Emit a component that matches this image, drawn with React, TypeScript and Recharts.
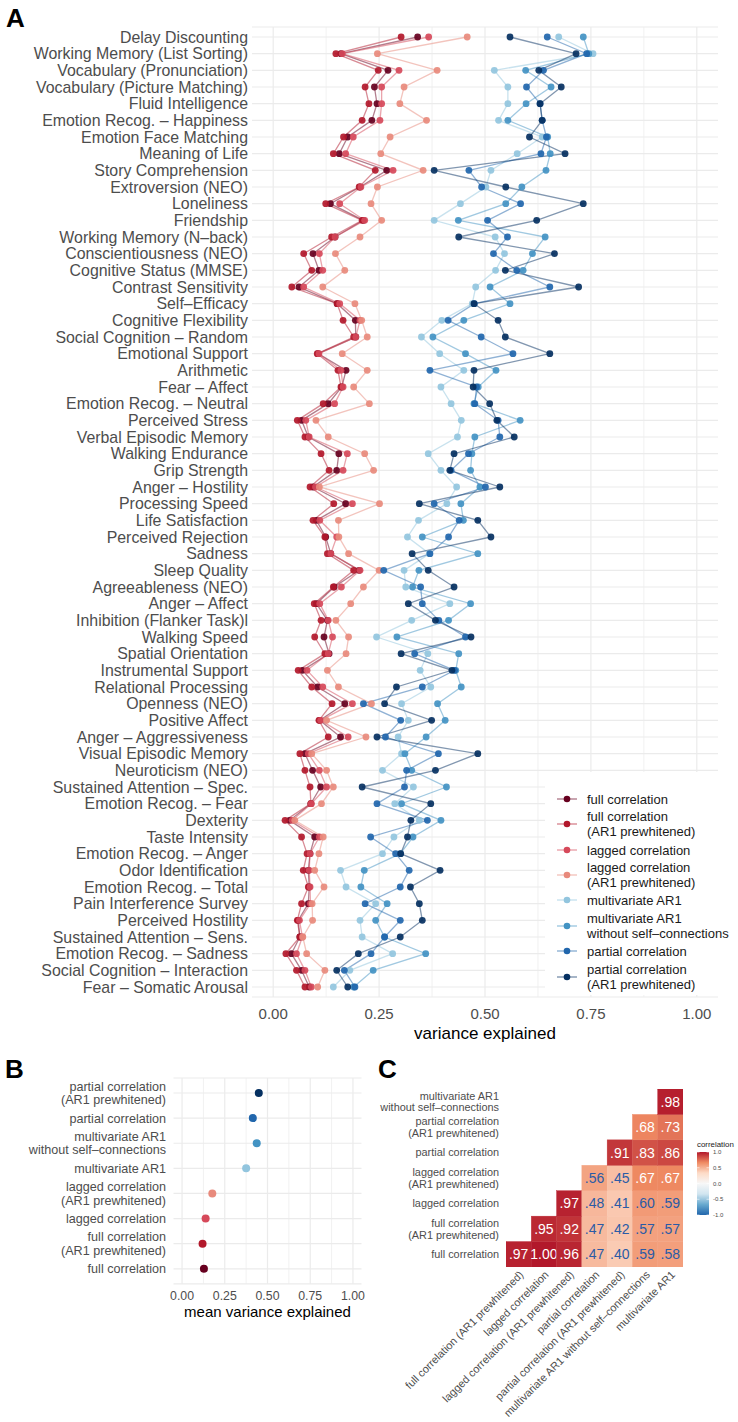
import React from "react";
import {
  CartesianGrid,
  ComposedChart,
  Line,
  Scatter,
  ScatterChart,
  XAxis,
  YAxis,
} from "recharts";

const FONT = '"Liberation Sans", Arial, Helvetica, sans-serif';
const GREY = "#4d4d4d";
const GRID = "#ebebeb";

// ---- panel A: variance explained per measure ----
const measures = [
  "Delay Discounting",
  "Working Memory (List Sorting)",
  "Vocabulary (Pronunciation)",
  "Vocabulary (Picture Matching)",
  "Fluid Intelligence",
  "Emotion Recog. – Happiness",
  "Emotion Face Matching",
  "Meaning of Life",
  "Story Comprehension",
  "Extroversion (NEO)",
  "Loneliness",
  "Friendship",
  "Working Memory (N–back)",
  "Conscientiousness (NEO)",
  "Cognitive Status (MMSE)",
  "Contrast Sensitivity",
  "Self–Efficacy",
  "Cognitive Flexibility",
  "Social Cognition – Random",
  "Emotional Support",
  "Arithmetic",
  "Fear – Affect",
  "Emotion Recog. – Neutral",
  "Perceived Stress",
  "Verbal Episodic Memory",
  "Walking Endurance",
  "Grip Strength",
  "Anger – Hostility",
  "Processing Speed",
  "Life Satisfaction",
  "Perceived Rejection",
  "Sadness",
  "Sleep Quality",
  "Agreeableness (NEO)",
  "Anger – Affect",
  "Inhibition (Flanker Task)l",
  "Walking Speed",
  "Spatial Orientation",
  "Instrumental Support",
  "Relational Processing",
  "Openness (NEO)",
  "Positive Affect",
  "Anger – Aggressiveness",
  "Visual Episodic Memory",
  "Neuroticism (NEO)",
  "Sustained Attention – Spec.",
  "Emotion Recog. – Fear",
  "Dexterity",
  "Taste Intensity",
  "Emotion Recog. – Anger",
  "Odor Identification",
  "Emotion Recog. – Total",
  "Pain Interference Survey",
  "Perceived Hostility",
  "Sustained Attention – Sens.",
  "Emotion Recog. – Sadness",
  "Social Cognition – Interaction",
  "Fear – Somatic Arousal",
];

const fullCorr = [
  0.341, 0.16, 0.271, 0.239, 0.245, 0.233, 0.176, 0.156, 0.268, 0.205,
  0.135, 0.213, 0.146, 0.094, 0.108, 0.061, 0.151, 0.194, 0.195, 0.106,
  0.172, 0.162, 0.13, 0.067, 0.083, 0.155, 0.15, 0.094, 0.171, 0.102,
  0.124, 0.136, 0.203, 0.144, 0.102, 0.128, 0.12, 0.132, 0.069, 0.105,
  0.169, 0.11, 0.159, 0.075, 0.093, 0.112, 0.089, 0.039, 0.098, 0.087,
  0.083, 0.085, 0.083, 0.059, 0.063, 0.043, 0.067, 0.085,
];
const fullCorrAR1 = [
  0.302, 0.148, 0.248, 0.217, 0.226, 0.21, 0.166, 0.142, 0.241, 0.203,
  0.124, 0.21, 0.138, 0.072, 0.091, 0.044, 0.151, 0.165, 0.19, 0.104,
  0.153, 0.16, 0.118, 0.057, 0.075, 0.113, 0.132, 0.087, 0.143, 0.094,
  0.122, 0.128, 0.19, 0.142, 0.097, 0.113, 0.098, 0.122, 0.059, 0.091,
  0.139, 0.108, 0.13, 0.063, 0.075, 0.087, 0.089, 0.028, 0.067, 0.08,
  0.071, 0.083, 0.067, 0.057, 0.063, 0.03, 0.055, 0.075,
];
const laggedCorr = [
  0.367, 0.163, 0.297, 0.256, 0.256, 0.252, 0.189, 0.171, 0.283, 0.207,
  0.157, 0.216, 0.146, 0.109, 0.117, 0.072, 0.157, 0.205, 0.195, 0.108,
  0.16, 0.165, 0.145, 0.077, 0.085, 0.175, 0.165, 0.1, 0.187, 0.11,
  0.15, 0.136, 0.205, 0.161, 0.11, 0.13, 0.14, 0.13, 0.08, 0.117,
  0.187, 0.112, 0.177, 0.083, 0.109, 0.126, 0.09, 0.045, 0.109, 0.087,
  0.085, 0.087, 0.088, 0.062, 0.069, 0.055, 0.075, 0.09,
];
const laggedCorrAR1 = [
  0.458, 0.246, 0.387, 0.309, 0.299, 0.362, 0.276, 0.254, 0.354, 0.246,
  0.231, 0.256, 0.205, 0.147, 0.169, 0.117, 0.193, 0.209, 0.222, 0.163,
  0.222, 0.19, 0.227, 0.101, 0.13, 0.216, 0.237, 0.109, 0.251, 0.154,
  0.155, 0.178, 0.25, 0.213, 0.183, 0.148, 0.178, 0.172, 0.128, 0.154,
  0.232, 0.126, 0.219, 0.091, 0.126, 0.142, 0.114, 0.051, 0.118, 0.108,
  0.098, 0.12, 0.092, 0.093, 0.07, 0.079, 0.122, 0.105,
];
const mvAR1 = [
  0.674, 0.755, 0.522, 0.554, 0.554, 0.532, 0.635, 0.576, 0.514, 0.502,
  0.442, 0.38, 0.524, 0.546, 0.525, 0.478, 0.47, 0.398, 0.35, 0.393,
  0.45, 0.396, 0.42, 0.444, 0.435, 0.366, 0.396, 0.433, 0.41, 0.343,
  0.317, 0.369, 0.309, 0.313, 0.417, 0.327, 0.244, 0.365, 0.347, 0.372,
  0.303, 0.319, 0.295, 0.303, 0.258, 0.331, 0.287, 0.345, 0.285, 0.258,
  0.159, 0.172, 0.242, 0.205, 0.21, 0.282, 0.181, 0.142,
];
const mvAR1NoSelf = [
  0.732, 0.745, 0.596, 0.656, 0.597, 0.554, 0.648, 0.654, 0.644, 0.587,
  0.549, 0.437, 0.642, 0.612, 0.59, 0.512, 0.559, 0.45, 0.377, 0.454,
  0.526, 0.484, 0.474, 0.583, 0.476, 0.469, 0.466, 0.488, 0.443, 0.449,
  0.352, 0.483, 0.344, 0.329, 0.466, 0.414, 0.292, 0.438, 0.431, 0.444,
  0.388, 0.406, 0.361, 0.311, 0.327, 0.409, 0.303, 0.396, 0.33, 0.3,
  0.215, 0.207, 0.269, 0.242, 0.263, 0.36, 0.236, 0.19,
];
const partialCorr = [
  0.647, 0.74, 0.638, 0.598, 0.63, 0.635, 0.645, 0.632, 0.462, 0.492,
  0.584, 0.506, 0.553, 0.52, 0.575, 0.653, 0.475, 0.413, 0.491, 0.566,
  0.37, 0.48, 0.476, 0.531, 0.535, 0.461, 0.42, 0.501, 0.38, 0.439,
  0.414, 0.37, 0.261, 0.348, 0.352, 0.391, 0.454, 0.334, 0.428, 0.352,
  0.213, 0.301, 0.265, 0.39, 0.315, 0.31, 0.245, 0.364, 0.23, 0.289,
  0.321, 0.3, 0.217, 0.3, 0.263, 0.231, 0.168, 0.193,
];
const partialCorrAR1 = [
  0.559, 0.715, 0.627, 0.68, 0.63, 0.635, 0.605, 0.689, 0.38, 0.549,
  0.732, 0.622, 0.438, 0.664, 0.548, 0.721, 0.474, 0.531, 0.548, 0.653,
  0.474, 0.472, 0.511, 0.528, 0.569, 0.427, 0.417, 0.535, 0.345, 0.483,
  0.514, 0.328, 0.366, 0.427, 0.319, 0.383, 0.467, 0.302, 0.422, 0.291,
  0.263, 0.374, 0.245, 0.483, 0.383, 0.21, 0.372, 0.325, 0.317, 0.301,
  0.394, 0.324, 0.345, 0.352, 0.3, 0.201, 0.15, 0.176,
];

const methodLabels = [
  "full correlation",
  "full correlation\n(AR1 prewhitened)",
  "lagged correlation",
  "lagged correlation\n(AR1 prewhitened)",
  "multivariate AR1",
  "multivariate AR1\nwithout self–connections",
  "partial correlation",
  "partial correlation\n(AR1 prewhitened)",
];
const methodColors = [
  "#67001f",
  "#b2182b",
  "#d6495a",
  "#e88a7c",
  "#92c5de",
  "#4393c3",
  "#2166ac",
  "#053061",
];
const seriesKeys = ["full", "fullAR1", "lagged", "laggedAR1", "mv", "mvNoSelf", "partial", "partialAR1"];
const seriesValues = [
  fullCorr, fullCorrAR1, laggedCorr, laggedCorrAR1,
  mvAR1, mvAR1NoSelf, partialCorr, partialCorrAR1,
];

// ---- panel B: mean variance explained ----
const meanVariance = [0.128, 0.12, 0.138, 0.177, 0.375, 0.437, 0.414, 0.449];

// ---- panel C: correlation between methods (upper triangle) ----
const corrMethods = [
  "full correlation",
  "full correlation\n(AR1 prewhitened)",
  "lagged correlation",
  "lagged correlation\n(AR1 prewhitened)",
  "partial correlation",
  "partial correlation\n(AR1 prewhitened)",
  "multivariate AR1\nwithout self–connections",
  "multivariate AR1",
];
const corrFull = [0.97, 1.0, 0.96, 0.47, 0.4, 0.59, 0.58];
const corrFullAR1 = [0.95, 0.92, 0.47, 0.42, 0.57, 0.57];
const corrLagged = [0.97, 0.48, 0.41, 0.6, 0.59];
const corrLaggedAR1 = [0.56, 0.45, 0.67, 0.67];
const corrPartial = [0.91, 0.83, 0.86];
const corrPartialAR1 = [0.68, 0.73];
const corrMvNoSelf = [0.98];

const majorTicks = [0, 0.25, 0.5, 0.75, 1];
const minorTicks = [0.125, 0.375, 0.625, 0.875];
const corrIndex = [1, 2, 3, 4, 5, 6, 7];
const heatStops = ["#2166ac", "#67a9cf", "#d1e5f0", "#f7f7f7", "#fddbc7", "#ef8a62", "#b2182b"];

const panelAData = measures.map((name, i) => {
  const row: Record<string, string | number> = { name };
  seriesKeys.forEach((k, s) => {
    row[k] = seriesValues[s][i];
  });
  return row;
});

const panelBData = methodLabels
  .map((name, i) => ({ name, value: meanVariance[i], color: methodColors[i] }))
  .reverse();

const corrCells = [
  corrFull, corrFullAR1, corrLagged, corrLaggedAR1, corrPartial, corrPartialAR1, corrMvNoSelf,
].flatMap((vals, r) => vals.map((value, k) => ({ row: r + 1, col: r + 1 + k, value })));

function hexToRgb(h: string) {
  return [1, 3, 5].map((i) => parseInt(h.slice(i, i + 2), 16));
}
function heatColor(v: number) {
  const t = ((v + 1) / 2) * (heatStops.length - 1);
  const i = Math.min(Math.floor(t), heatStops.length - 2);
  const f = t - i;
  const a = hexToRgb(heatStops[i]);
  const b = hexToRgb(heatStops[i + 1]);
  const c = a.map((x, j) => Math.round(x + (b[j] - x) * f));
  return `rgb(${c[0]},${c[1]},${c[2]})`;
}

// panel C geometry
const C_W = 420;
const C_H = 382;
const C_MARGIN = { top: 49, right: 37, bottom: 5, left: 0 };
const C_YW = 206;
const C_XH = 150;
const TILE_W = (C_W - C_MARGIN.left - C_MARGIN.right - C_YW) / 7;
const TILE_H = (C_H - C_MARGIN.top - C_MARGIN.bottom - C_XH) / 7;

function MultiLineYTick({ x, y, payload, fontSize, lineHeight, labels }: any) {
  const text: string = labels ? labels[payload.value] : payload.value;
  const lines = text.split("\n");
  const first = -((lines.length - 1) / 2) * lineHeight + fontSize * 0.35;
  return (
    <text x={x} y={y} textAnchor="end" fill={GREY} fontSize={fontSize} fontFamily={FONT}>
      {lines.map((l, i) => (
        <tspan key={i} x={x} dy={i === 0 ? first : lineHeight}>
          {l}
        </tspan>
      ))}
    </text>
  );
}

function RotatedTick({ x, y, payload }: any) {
  const label = corrMethods[payload.value].replace("\n", " ");
  return (
    <text
      x={x}
      y={y}
      dy="0.71em"
      textAnchor="end"
      transform={`rotate(-45 ${x} ${y})`}
      fill={GREY}
      fontSize={10.9}
      fontFamily={FONT}
    >
      {label}
    </text>
  );
}

function HeatTile({ cx, cy, payload }: any) {
  const v = payload.value as number;
  const txt = v >= 1 ? "1.00" : v.toFixed(2).replace(/^0/, "");
  const fill = heatColor(v);
  return (
    <g>
      <rect
        x={cx - TILE_W / 2}
        y={cy - TILE_H / 2}
        width={TILE_W}
        height={TILE_H}
        fill={fill}
        stroke={fill}
        strokeWidth={0.4}
      />
      <text
        x={cx}
        y={cy}
        dy="0.36em"
        textAnchor="middle"
        fontSize={14}
        fontFamily={FONT}
        fill={v > 0.65 ? "#ffffff" : "#2a5ba6"}
      >
        {txt}
      </text>
    </g>
  );
}

function MeanDot({ cx, cy, payload }: any) {
  return <circle key={payload.name} cx={cx} cy={cy} r={4} fill={payload.color} />;
}

function PanelALegend() {
  const rowY = [27, 52, 78, 103, 128, 154, 179, 205];
  return (
    <svg
      width={193}
      height={223}
      style={{ position: "absolute", left: 545, top: 772 }}
    >
      <rect x={0} y={0} width={193} height={223} fill="#ffffff" />
      {methodLabels.map((label, i) => {
        const lines = label.split("\n");
        const cy = rowY[i];
        return (
          <g key={label}>
            <line x1={12} x2={32} y1={cy} y2={cy} stroke={methodColors[i]} strokeOpacity={0.55} strokeWidth={1.3} />
            <circle cx={22} cy={cy} r={3.3} fill={methodColors[i]} />
            <text x={42} y={cy} fontSize={13} fontFamily={FONT} fill="#1a1a1a">
              {lines.map((l, j) => (
                <tspan
                  key={j}
                  x={42}
                  dy={j === 0 ? -((lines.length - 1) / 2) * 14.7 + 4.6 : 14.7}
                >
                  {l}
                </tspan>
              ))}
            </text>
          </g>
        );
      })}
    </svg>
  );
}

function ColorBar() {
  const labels = ["1.0", "0.5", "0.0", "-0.5", "-1.0"];
  return (
    <svg width={40} height={90} style={{ position: "absolute", left: 695, top: 1136 }}>
      <defs>
        <linearGradient id="corr-bar" x1="0" x2="0" y1="0" y2="1">
          {heatStops
            .slice()
            .reverse()
            .map((c, i) => (
              <stop key={c} offset={`${(i / (heatStops.length - 1)) * 100}%`} stopColor={c} />
            ))}
        </linearGradient>
      </defs>
      <text x={2} y={11} fontSize={7.9} fontFamily={FONT} fill="#1a1a1a">
        correlation
      </text>
      <rect x={2} y={16} width={12} height={63} fill="url(#corr-bar)" />
      {labels.map((l, i) => (
        <g key={l}>
          <line x1={2} x2={4.5} y1={16 + i * 15.75} y2={16 + i * 15.75} stroke="#fff" strokeWidth={0.6} />
          <line x1={11.5} x2={14} y1={16 + i * 15.75} y2={16 + i * 15.75} stroke="#fff" strokeWidth={0.6} />
          <text x={18} y={16 + i * 15.75} dy="0.35em" fontSize={6} fontFamily={FONT} fill={GREY}>
            {l}
          </text>
        </g>
      ))}
    </svg>
  );
}

const panelLetter = (letter: string, x: number, y: number) => (
  <svg width={40} height={40} style={{ position: "absolute", left: x, top: y - 30 }}>
    <text x={0} y={30} fontSize={26} fontWeight="bold" fontFamily={FONT} fill="#000">
      {letter}
    </text>
  </svg>
);

export default function App() {
  return (
    <div style={{ position: "relative", width: 738, height: 1422, background: "#fff", fontFamily: FONT }}>
      <style>{"body{margin:0}"}</style>

      {panelLetter("A", 6, 27)}
      <div style={{ position: "absolute", left: 0, top: 0 }}>
        <ComposedChart
          layout="vertical"
          width={738}
          height={1045}
          data={panelAData}
          margin={{ top: 27, right: 20, bottom: 3, left: 0 }}
        >
          <CartesianGrid stroke={GRID} strokeWidth={0.7} horizontal={false} verticalValues={minorTicks} />
          <CartesianGrid stroke={GRID} strokeWidth={1.2} verticalValues={majorTicks} />
          <XAxis
            type="number"
            domain={[-0.05, 1.05]}
            ticks={majorTicks}
            allowDataOverflow
            tickFormatter={(v: number) => v.toFixed(2)}
            axisLine={false}
            tickLine={false}
            tickSize={0}
            tickMargin={11.5}
            height={45}
            tick={{ fill: GREY, fontSize: 15, fontFamily: FONT }}
            label={{ value: "variance explained", position: "insideBottom", offset: 3, fill: "#000", fontSize: 17, fontFamily: FONT }}
          />
          <YAxis
            type="category"
            dataKey="name"
            width={252}
            interval={0}
            padding={{ top: 10, bottom: 10 }}
            axisLine={false}
            tickLine={false}
            tickSize={0}
            tickMargin={4}
            tick={{ fill: GREY, fontSize: 15.9, fontFamily: FONT }}
          />
          {seriesKeys.map((k, s) => (
            <Line
              key={k}
              dataKey={k}
              name={methodLabels[s]}
              stroke={methodColors[s]}
              strokeOpacity={0.5}
              strokeWidth={1.3}
              dot={{ r: 3.4, fill: methodColors[s], stroke: "none", fillOpacity: 0.92 }}
              activeDot={false}
              isAnimationActive={false}
            />
          ))}
        </ComposedChart>
      </div>
      <PanelALegend />

      {panelLetter("B", 5, 1078)}
      <div style={{ position: "absolute", left: 0, top: 1040 }}>
        <ComposedChart
          layout="vertical"
          width={370}
          height={290}
          data={panelBData}
          margin={{ top: 38, right: 8.5, bottom: 1.2, left: 0 }}
        >
          <CartesianGrid stroke={GRID} strokeWidth={0.7} horizontal={false} verticalValues={minorTicks} />
          <CartesianGrid stroke={GRID} strokeWidth={1.2} verticalValues={majorTicks} />
          <XAxis
            type="number"
            domain={[-0.05, 1.05]}
            ticks={majorTicks}
            allowDataOverflow
            tickFormatter={(v: number) => v.toFixed(2)}
            axisLine={false}
            tickLine={false}
            tickSize={0}
            tickMargin={7}
            height={45}
            tick={{ fill: GREY, fontSize: 12.3, fontFamily: FONT }}
            label={{ value: "mean variance explained", position: "insideBottom", offset: 11.4, fill: "#000", fontSize: 15, fontFamily: FONT }}
          />
          <YAxis
            type="category"
            dataKey="name"
            width={173.5}
            interval={0}
            padding={{ top: 15, bottom: 15 }}
            axisLine={false}
            tickLine={false}
            tickSize={0}
            tickMargin={7.5}
            tick={(p: any) => <MultiLineYTick {...p} fontSize={12.6} lineHeight={13.7} />}
          />
          <Line
            dataKey="value"
            stroke="none"
            dot={MeanDot}
            activeDot={false}
            isAnimationActive={false}
          />
        </ComposedChart>
      </div>

      {panelLetter("C", 378, 1078)}
      <div style={{ position: "absolute", left: 300, top: 1040 }}>
        <ScatterChart width={C_W} height={C_H} margin={C_MARGIN}>
          <XAxis
            type="number"
            dataKey="col"
            domain={[0.5, 7.5]}
            ticks={corrIndex}
            interval={0}
            allowDataOverflow
            axisLine={false}
            tickLine={false}
            tickSize={0}
            tickMargin={3}
            height={C_XH}
            tick={<RotatedTick />}
          />
          <YAxis
            type="number"
            dataKey="row"
            domain={[0.5, 7.5]}
            ticks={corrIndex}
            interval={0}
            allowDataOverflow
            width={C_YW}
            axisLine={false}
            tickLine={false}
            tickSize={0}
            tickMargin={7}
            tick={(p: any) => (
              <MultiLineYTick
                {...p}
                fontSize={10.9}
                lineHeight={11.7}
                labels={corrMethods.map((m, i) => (i === 0 ? m : corrMethods[i - 1]))}
              />
            )}
          />
          <Scatter data={corrCells} shape={HeatTile} isAnimationActive={false} />
        </ScatterChart>
      </div>
      <ColorBar />
    </div>
  );
}
